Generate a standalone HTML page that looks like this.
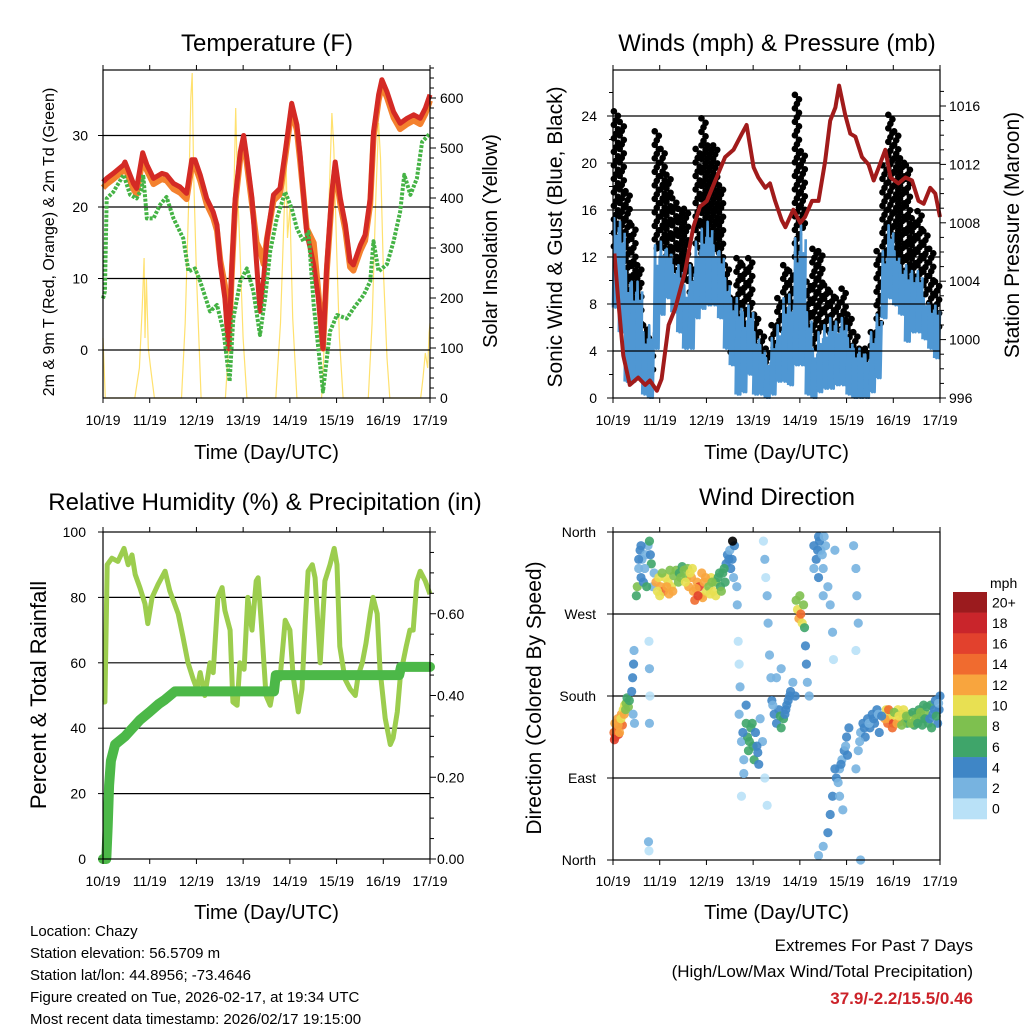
<!DOCTYPE html>
<html><head><meta charset="utf-8"><style>
body{margin:0;background:#fff;}
svg{display:block;font-family:"Liberation Sans",sans-serif;}
</style></head><body>
<svg id="s" width="1024" height="1024" viewBox="0 0 1024 1024" xmlns="http://www.w3.org/2000/svg"></svg>
<script>
// ---------- DATA ----------
const dayLabels=["10/19","11/19","12/19","13/19","14/19","15/19","16/19","17/19"];
// Temperature (F)
const tempT=[0,0.08,0.22,0.44,0.47,0.65,0.72,0.85,0.94,1.08,1.26,1.36,1.51,1.65,1.79,1.9,1.97,2.08,2.22,2.36,2.44,2.51,2.61,2.69,2.76,2.83,2.94,3.01,3.08,3.19,3.29,3.36,3.44,3.51,3.65,3.79,3.9,4.04,4.15,4.22,4.36,4.51,4.61,4.71,4.79,4.9,4.97,5.08,5.19,5.29,5.36,5.51,5.61,5.72,5.79,5.9,5.97,6.08,6.22,6.36,6.51,6.65,6.79,6.9,7.0];
const temp2m=[23.5,24,24.7,25.9,26.3,23.3,22.6,27.6,25.9,24,24.7,24.5,23.3,22.8,21.9,26.6,26.6,24.5,21.2,19.3,17.5,11.9,7.2,0.2,11.9,21.2,27.7,30,26.8,21.2,11.9,5.4,10,15.6,21.7,22.6,27.7,34.5,31.5,27.3,16.5,11.9,7.2,0.2,11.9,22.1,26.3,21.2,17.5,12.4,11.9,14.7,16.1,21.2,30.5,35.7,37.8,36.1,33.3,31.7,32.4,32.9,32.4,33.8,35.7];
const temp9m=[22.7,23.2,23.9,25.1,25.5,22.5,21.8,26.8,25.1,23.2,23.9,23.7,22.5,22,21.1,25.8,25.8,23.7,20.4,18.5,16.7,12.5,9,0.2,11.1,20.4,26.9,29.2,26,20.4,15,14,12,15.6,20.9,21.8,26.9,33.7,30.7,26.5,17,15,8,0.2,11.1,21.3,25.5,20.4,16.7,11.6,11.1,13.9,15.3,20.4,29.7,34.9,37,35.3,32.5,30.9,31.6,32.1,31.6,33,34.9];
const dewT=[0,0.04,0.08,0.22,0.44,0.58,0.72,0.83,0.86,0.94,1.08,1.22,1.36,1.51,1.72,1.83,1.97,2.08,2.29,2.44,2.58,2.71,2.79,2.94,3.08,3.22,3.36,3.47,3.58,3.72,3.9,4.04,4.15,4.29,4.4,4.51,4.71,4.86,5.01,5.22,5.36,5.58,5.72,5.79,5.9,6.08,6.22,6.36,6.45,6.58,6.72,6.83,7.0];
const dewV=[7.2,8.2,21.2,22.1,24.5,21.7,21.2,22.6,24.5,18.4,18.4,20.3,21.4,18.4,15.6,11,11.4,9.6,5.4,6.3,2.6,-4.4,4.4,9.6,11.4,8.2,2.1,7.2,13.8,18.4,22.1,19.8,17,15.2,16.5,6.3,-5.8,2.6,4.9,4.4,5.8,7.7,9.6,15.2,11,12,15.2,19.3,24.5,21.7,24,29.1,30.3];
const solarT=[0,0.05,0.68,0.78,0.84,0.88,0.9,0.93,0.97,1.02,1.1,1.68,1.76,1.83,1.88,1.91,1.94,2.0,2.1,2.62,2.72,2.8,2.84,2.88,2.93,3.0,3.08,3.7,3.8,3.87,3.92,3.95,4.0,4.06,4.15,4.68,4.76,4.84,4.9,4.94,5.0,5.06,5.14,5.68,5.76,5.84,5.9,5.94,6.0,6.08,6.14,6.8,6.85,6.9,6.95,6.98,7.0];
const solarW=[120,0,0,60,180,280,120,240,100,60,0,0,150,380,600,650,450,250,0,0,150,400,580,420,300,120,0,0,150,350,480,320,380,160,0,0,150,400,570,500,300,120,0,0,150,400,550,480,260,80,0,0,40,90,60,130,150];
// Winds (mph), bins of 1/8 day
const windTop=[15.3,15,10.8,9.9,9.9,5.6,6.2,13,13.3,12.7,11.3,11.3,9.6,11.3,13.3,14.4,15,13,12.5,10.2,8.5,8.5,7.3,7.9,5.6,4.5,3.4,5.1,6.2,8.5,8.8,13.6,14.7,7.3,4.2,5.6,6.2,6.8,6.5,6.8,5.1,4.2,4.2,3.7,5.6,7.1,12.5,14.7,12.5,11.3,11.3,10.8,10.8,8.5,7.9,7.9];
const windBot=[7.7,5.6,1.4,1.4,1.7,0.3,0,4.2,7.1,8.5,7.3,5.6,4.2,4.2,6.8,7.6,7.9,7.9,6.8,4.2,2.8,0.3,0.5,2,0.3,0.3,0,0.3,1.4,1.4,1.1,2.8,2.8,0.3,0,0.5,0.8,0.8,1.1,1.1,0.3,0,0,0,0.5,1.7,6.8,8.5,7.9,7.1,4.8,5.6,5.6,5,4.2,3.4];
const gustTop=[24.4,23.5,17.6,14.7,11.3,6.2,5.1,22.7,21.2,19,17,16.1,16.1,11.3,21.2,23.8,21.5,21.5,18.1,11.3,8.5,11.9,11.3,11.9,7.1,5.6,4.2,6.2,8.5,11.3,10.8,25.8,21,9.9,12.7,12.5,9.6,9,8.5,9.3,7.1,5.6,4.2,4.2,5.6,12.5,19.8,24.1,22.7,20.4,19.8,15.3,15.9,14.2,12.7,9.9];
const gustBot=[12.5,11.3,8.5,5.6,2.8,3.4,1.4,12.7,12.7,11.3,10.8,9,9.6,8.5,12.7,11.3,12.2,12.7,11.3,7.1,3.4,4,4.2,5.6,2.8,2.8,2.8,4,5.6,6.8,5.6,11.3,14.2,2.8,4.2,5.6,5.6,4,5.6,5.6,4.2,2.8,2.8,2.8,3.7,5.6,11.3,11.3,9.9,9.9,8.5,9.9,8.5,8.5,7.1,5.6];
const presT=[0.03,0.11,0.22,0.36,0.54,0.69,0.79,0.94,1.04,1.19,1.33,1.54,1.72,1.86,2.01,2.19,2.4,2.58,2.76,2.86,3.01,3.11,3.26,3.36,3.47,3.61,3.69,3.86,4.01,4.11,4.26,4.4,4.54,4.65,4.76,4.84,4.97,5.08,5.19,5.33,5.47,5.58,5.69,5.83,5.94,6.11,6.26,6.4,6.54,6.65,6.79,6.9,7.0];
const presV=[1005.9,1002.8,998.9,996.9,997.4,996.9,997.2,996.5,997.3,1001,1002.1,1004.6,1007.7,1009.1,1009.5,1010.9,1012.5,1013,1014.1,1014.7,1011.8,1011.1,1010.4,1010.7,1009.5,1008.2,1007.7,1008.9,1008,1008.4,1009.5,1009.5,1012.2,1015,1015.9,1017.4,1015.4,1014.1,1013.9,1012.5,1012,1010.9,1011.8,1013,1011.1,1010.7,1011.1,1010.9,1009.5,1009.3,1010.4,1010,1008.4];
// RH & precipitation
const rhT=[0,0.04,0.09,0.19,0.32,0.45,0.54,0.62,0.69,0.79,0.9,0.96,1.05,1.18,1.33,1.43,1.61,1.71,1.82,1.93,2.01,2.08,2.18,2.29,2.36,2.46,2.55,2.61,2.72,2.78,2.87,2.93,3.02,3.1,3.19,3.28,3.32,3.4,3.49,3.58,3.68,3.79,3.9,4.0,4.07,4.18,4.26,4.33,4.39,4.48,4.54,4.65,4.75,4.86,4.95,5.01,5.07,5.18,5.29,5.4,5.46,5.55,5.63,5.72,5.78,5.87,5.93,6.04,6.15,6.21,6.3,6.36,6.42,6.49,6.57,6.64,6.72,6.79,6.9,7.0];
const rhV=[48,48,90,92,91,95,90,93,87,83,78,72,80,84,88,82,75,68,60,55,52,57,50,60,57,80,83,76,70,48,47,60,58,80,70,85,86,70,50,47,55,55,73,70,56,45,52,73,88,90,86,60,85,90,95,90,65,55,52,50,56,60,66,75,80,75,58,43,35,37,45,55,60,65,70,70,85,88,85,81];
const rainT=[0,0.07,0.1,0.13,0.17,0.26,0.47,0.79,1.0,1.2,1.33,1.54,3.66,3.7,6.34,6.38,7.0];
const rainV=[0,0,0.08,0.18,0.24,0.28,0.3,0.34,0.36,0.38,0.39,0.41,0.41,0.45,0.45,0.47,0.47];
// Wind direction observations
const wdT=[0.02,0.04,0.05,0.08,0.1,0.12,0.15,0.18,0.2,0.22,0.25,0.28,0.3,0.33,0.35,
0.4,0.42,0.44,0.45,0.43,0.46,
0.5,0.52,0.55,0.58,0.6,0.62,0.65,0.7,0.75,0.78,0.82,0.85,0.88,
0.77,0.78,0.79,0.78,0.76,0.77,
0.92,0.98,1.02,1.08,1.12,1.18,1.25,1.3,1.35,1.42,1.48,1.52,1.58,1.62,1.68,1.72,1.75,1.8,1.85,1.88,1.92,1.95,2.0,2.05,2.1,2.15,2.2,2.25,2.3,2.35,1.0,1.2,1.4,1.6,1.7,1.9,2.2,2.4,
2.42,2.45,2.5,2.52,2.55,2.6,2.58,
2.65,2.66,2.68,2.7,2.72,
2.7,2.75,2.8,2.85,2.88,2.9,2.95,3.0,3.02,3.05,3.1,3.15,3.2,2.8,2.75,2.85,
3.22,3.25,3.27,3.3,3.32,3.35,3.38,3.3,3.25,
3.4,3.45,3.5,3.55,3.6,3.65,3.7,3.75,3.8,3.85,3.9,3.5,3.6,
3.92,3.95,3.98,4.0,4.02,4.05,4.08,4.1,4.12,4.14,4.16,4.2,
4.3,4.35,4.4,4.45,4.5,4.55,4.6,4.65,4.7,4.72,4.75,4.4,4.5,
4.4,4.5,4.6,4.65,4.7,4.78,4.85,4.9,4.95,5.0,5.05,4.85,4.92,4.75,
5.15,5.2,5.22,5.25,5.2,5.3,
5.2,5.25,5.3,5.35,5.4,5.45,5.5,5.55,5.6,5.65,5.7,
5.85,5.88,5.92,5.95,6.0,6.05,6.1,6.15,6.2,6.25,6.3,6.35,6.4,6.45,6.5,6.55,6.6,6.65,6.7,6.75,6.8,6.85,6.9,6.95,7.0,6.98,
0.95,1.05,1.15,1.22,1.28,1.45,1.55,1.65,1.78,1.82,1.98,2.08,2.12,2.28,2.32,2.38,
5.82,5.9,5.98,6.02,6.08,6.12,6.18,6.22,6.28,6.38,6.42,6.48,6.52,6.58,6.62,6.68,6.72,6.78,6.82,6.88,6.92,6.97,
0.03,0.07,0.11,0.14,0.17,0.24,0.27,
2.78,2.92,2.98,3.08,3.12,3.42,3.58,3.68,3.72,3.78,5.28,5.38,5.48,5.58,5.68,5.75,4.82,4.88,4.98,5.02,4.3,4.38,4.42,4.48,4.52,0.55,0.6,0.68,0.72,0.8,2.48,2.56];
const wdDeg=[140,150,135,145,155,138,150,160,148,165,170,172,178,168,175,
185,200,215,230,160,150,
290,300,320,340,310,330,305,335,345,350,325,300,315,
240,210,180,150,20,10,
305,310,300,295,310,305,300,312,318,315,322,318,310,300,310,295,285,305,300,290,288,305,295,300,310,295,305,310,300,315,290,292,305,320,320,315,290,305,
325,335,340,320,330,345,310,
300,280,240,215,190,
160,130,110,150,135,120,145,125,110,140,118,155,130,95,70,170,
350,330,310,290,260,225,200,60,90,
175,160,150,165,145,155,165,175,185,195,180,200,210,
285,275,265,290,270,260,280,255,235,215,195,180,
345,330,355,340,320,345,300,280,250,220,340,310,290,
5,15,30,50,70,90,100,110,120,135,145,70,55,100,
345,320,290,260,230,0,
100,120,140,150,135,155,145,160,150,165,140,
165,150,155,160,150,158,165,152,160,155,150,160,155,148,160,165,155,170,160,150,170,160,175,150,180,165,
295,315,300,318,295,310,305,315,298,290,310,292,305,315,295,320,
155,165,145,162,150,158,148,165,158,150,162,155,150,162,148,155,168,155,145,165,158,172,
132,142,148,140,155,160,165,
140,130,150,125,105,170,158,160,170,180,130,145,150,155,160,158,85,105,125,115,320,340,350,335,355,330,345,320,300,335,330,350];
const wdSpd=[14,12,16,15,12,16,13,12,14,11,10,8,7,9,6,
4,4,5,3,3,3,
7,9,3,4,5,3,4,2,2,7,6,2,3,
1,2,1,2,2,1,
12,10,12,14,10,11,10,9,8,7,6,8,9,12,13,12,14,12,17,11,13,12,11,9,10,11,8,7,6,6,11,12,9,8,10,12,10,6,
4,4,3,4,4,5,3,
2,2,1,1,2,
3,2,3,6,7,7,6,6,6,5,4,3,2,2,1,5,
1,2,1,2,2,3,2,1,1,
4,4,5,4,6,7,5,4,4,3,4,3,2,
8,10,12,9,14,11,8,6,4,4,3,2,
4,4,4,3,3,2,2,2,2,1,2,4,2,
3,3,4,4,4,4,3,3,4,4,4,2,2,4,
2,2,2,2,1,2,
2,3,3,4,4,4,4,4,5,4,4,
10,14,12,10,16,11,10,12,9,8,7,8,10,7,8,7,6,7,8,6,6,5,4,5,4,5,
11,9,13,8,12,9,10,11,12,16,12,10,9,7,8,6,
12,14,15,9,12,11,8,10,9,8,7,9,6,8,7,6,7,5,7,4,6,3,
16,14,13,12,11,12,9,
5,6,7,5,4,3,6,4,4,5,3,4,3,4,3,4,3,4,3,4,3,4,4,3,3,4,5,3,6,4,4];
const cbLabels=["20+","18","16","14","12","10","8","6","4","2","0"];
const cbColors=["#9b1b1e","#c9252b","#e2412d","#f06b2f","#f8a53e","#e8e052","#7ec04f","#3fa56a","#3f86c6","#77b3e0","#b9e1f7"];

// ---------- helpers ----------
const NS="http://www.w3.org/2000/svg";
const S=document.getElementById("s");
function el(tag,attrs,parent){const e=document.createElementNS(NS,tag);for(const k in attrs)e.setAttribute(k,attrs[k]);(parent||S).appendChild(e);return e;}
function txt(str,x,y,size,anchor,parent,extra){const e=el("text",Object.assign({x:x,y:y,"font-size":size,"text-anchor":anchor||"middle",fill:"#000"},extra||{}),parent);e.textContent=str;return e;}
function pathOf(ts,vs,fx,fy){let d="";for(let i=0;i<ts.length;i++)d+=(i?"L":"M")+fx(ts[i]).toFixed(1)+","+fy(vs[i]).toFixed(1);return d;}
function group(name){const g=el("g",{});return g;}

const L0=103,L1=430,R0=613,R1=940;
const xL=d=>L0+d*(L1-L0)/7, xR=d=>R0+d*(R1-R0)/7;

function frame(g,x0,x1,y0,y1,fx,xlabY,titleY){
  for(let i=0;i<dayLabels.length;i++){
    const x=fx(i);
    el("line",{x1:x,y1:y1,x2:x,y2:y1+5,stroke:"#000","stroke-width":1},g);
    el("line",{x1:x,y1:y0,x2:x,y2:y0-5,stroke:"#000","stroke-width":1},g);
    const t=txt(dayLabels[i],x,xlabY,14,"middle",g);
    
    
  }
  const tt=txt("Time (Day/UTC)",(x0+x1)/2,titleY,20,"middle",g);
  
  
}
function border(g,x0,x1,y0,y1){el("rect",{x:x0,y:y0,width:x1-x0,height:y1-y0,fill:"none",stroke:"#000","stroke-width":1.2},g);}
function hgrid(g,x0,x1,ys){ys.forEach(y=>el("line",{x1:x0,y1:y,x2:x1,y2:y,stroke:"#000","stroke-width":1.2},g));}

// ================= PANEL 1: Temperature =================
{
const g=group("temperature-panel");
const y0=70,y1=398;
const yT=v=>350-v*7.15, yS=w=>398-w*0.5;
const t=txt("Temperature (F)",267,51,24,"middle",g);
const sp=el("path",{d:pathOf(solarT,solarW,xL,yS),fill:"none",stroke:"#ffd94a","stroke-width":1.2,"stroke-opacity":0.8},g);

hgrid(g,L0,L1,[0,10,20,30].map(yT));
const op=el("path",{d:pathOf(tempT,temp9m,xL,yT),fill:"none",stroke:"#f4812e","stroke-width":6,"stroke-linejoin":"round"},g);

const rp=el("path",{d:pathOf(tempT,temp2m,xL,yT),fill:"none",stroke:"#d42a25","stroke-width":5,"stroke-linejoin":"round"},g);

const gp=el("path",{d:pathOf(dewT,dewV,xL,yT),fill:"none",stroke:"#45b345","stroke-width":4,"stroke-dasharray":"3 1.5","stroke-linejoin":"round"},g);

border(g,L0,L1,y0,y1);
[0,10,20,30].forEach(v=>{el("line",{x1:L0-5,y1:yT(v),x2:L0,y2:yT(v),stroke:"#000"},g);const l=txt(String(v),88,yT(v)+5,14,"end",g);});
for(let w=0;w<=660;w+=20){el("line",{x1:L1,y1:yS(w),x2:L1+(w%100==0?6:4),y2:yS(w),stroke:"#000"},g);}
[0,100,200,300,400,500,600].forEach(w=>{const l=txt(String(w),440,yS(w)+5,14,"start",g);});
const la=txt("2m & 9m T (Red, Orange) & 2m Td (Green)",0,0,16,"middle",g,{transform:"translate(54,242) rotate(-90)"});
const ra=txt("Solar Insolation (Yellow)",0,0,20,"middle",g,{transform:"translate(497,241) rotate(-90)"});
frame(g,L0,L1,y0,y1,xL,425,459);
}
// ================= PANEL 2: Winds =================
{
const g=group("winds-panel");
const y0=70,y1=398;
const yW=m=>398-m*11.75, yP=p=>398-(p-996)*14.6;
const t=txt("Winds (mph) & Pressure (mb)",777,51,24,"middle",g);
const bw=(R1-R0)/56;
for(let i=0;i<gustTop.length;i++){
  const gt=yW(gustTop[i]), gb=yW(gustBot[i]);
  const dots=el("g",{},g);
  
  
  let k=0;
  for(let y=gt;y<=gb+0.1;y+=4.5){
    el("circle",{cx:xR(i/8)+(k%3==0?bw*0.15:(k%3==1?bw*0.85:bw*0.5)),cy:y,r:3.3,fill:"#000"},dots);
    k++;
  }
}
for(let i=0;i<windTop.length;i++){
  const x=xR(i/8), t2=yW(windTop[i]), b=yW(windBot[i]);
  const d="M"+x+","+b+"L"+(x+bw*0.2)+","+t2+"L"+(x+bw*0.4)+","+b+"L"+(x+bw*0.6)+","+(t2+(b-t2)*0.2)+"L"+(x+bw*0.8)+","+b+"L"+(x+bw)+","+(t2+(b-t2)*0.1);
  const r=el("path",{d:d,fill:"none",stroke:"#4f97d3","stroke-width":2.6,"stroke-linejoin":"round"},g);
  
  
}
hgrid(g,R0,R1,[4,8,12,16,20,24].map(yW));
const pp=el("path",{d:pathOf(presT,presV,xR,yP),fill:"none",stroke:"#a11b1b","stroke-width":4,"stroke-linejoin":"round"},g);

el("rect",{x:R0-20,y:y1+1,width:R1-R0+40,height:8,fill:"#fff"},g);
border(g,R0,R1,y0,y1);
for(let m=0;m<=26;m+=2)el("line",{x1:R0-(m%4==0?6:4),y1:yW(m),x2:R0,y2:yW(m),stroke:"#000"},g);
[0,4,8,12,16,20,24].forEach(v=>{const l=txt(String(v),597,yW(v)+5,14,"end",g);});
for(let p=996;p<=1017;p+=1)el("line",{x1:R1,y1:yP(p),x2:R1+(p%4==0?6:4),y2:yP(p),stroke:"#000"},g);
[996,1000,1004,1008,1012,1016].forEach(v=>{const l=txt(String(v),949,yP(v)+5,14,"start",g);});
const la=txt("Sonic Wind & Gust (Blue, Black)",0,0,21,"middle",g,{transform:"translate(562,237) rotate(-90)"});
const ra=txt("Station Pressure (Maroon)",0,0,21,"middle",g,{transform:"translate(1019,235) rotate(-90)"});
frame(g,R0,R1,y0,y1,xR,425,459);
}
// ================= PANEL 3: RH & Precip =================
{
const g=group("humidity-panel");
const y0=532,y1=859;
const yH=v=>859-v*3.27, yR=i=>859-i*408.75;
const t=txt("Relative Humidity (%) & Precipitation (in)",265,510,24,"middle",g);
hgrid(g,L0,L1,[20,40,60,80].map(yH));
const hp=el("path",{d:pathOf(rhT,rhV,xL,yH),fill:"none",stroke:"#9ccd4e","stroke-width":5,"stroke-linejoin":"round"},g);

const rp=el("path",{d:pathOf(rainT,rainV,xL,yR),fill:"none",stroke:"#4cb848","stroke-width":10,"stroke-linejoin":"round","stroke-linecap":"round"},g);

border(g,L0,L1,y0,y1);
[0,20,40,60,80,100].forEach(v=>{el("line",{x1:L0-5,y1:yH(v),x2:L0,y2:yH(v),stroke:"#000"},g);const l=txt(String(v),86,yH(v)+5,14,"end",g);});
for(let i=0;i<=0.8001;i+=0.05)el("line",{x1:L1,y1:yR(i),x2:L1+(Math.abs(i*10-Math.round(i*10))<0.01&&Math.round(i*10)%2==0?6:4),y2:yR(i),stroke:"#000"},g);
[0,0.2,0.4,0.6].forEach(v=>{const l=txt(v.toFixed(2),437,yR(v)+5,14,"start",g);});
const la=txt("Percent & Total Rainfall",0,0,22,"middle",g,{transform:"translate(46,695) rotate(-90)"});
frame(g,L0,L1,y0,y1,xL,886,919);
}
// ================= PANEL 4: Wind direction =================
{
const g=group("wind-direction-panel");
const y0=532,y1=860;
const yD=d=>860-d*(328/360);
const t=txt("Wind Direction",777,505,24,"middle",g);
hgrid(g,R0,R1,[90,180,270].map(yD));
for(let i=0;i<wdT.length;i++){
  const ci=10-Math.min(10,Math.floor(wdSpd[i]/2));
  const c=el("circle",{cx:xR(wdT[i]),cy:yD(wdDeg[i]),r:4.6,fill:cbColors[ci],"fill-opacity":0.9},g);
  
  
}
border(g,R0,R1,y0,y1);
const dn=["North","East","South","West","North"];
[0,90,180,270,360].forEach((d,i)=>{el("line",{x1:R0-6,y1:yD(d),x2:R0,y2:yD(d),stroke:"#000"},g);const l=txt(dn[i],596,yD(d)+5,14,"end",g);});
const la=txt("Direction (Colored By Speed)",0,0,21,"middle",g,{transform:"translate(541,698) rotate(-90)"});
frame(g,R0,R1,y0,y1,xR,886,919);
const cb=group("speed-colorbar");
const m=txt("mph",990,588,14,"start",cb);
const bh=227/11;
for(let i=0;i<cbColors.length;i++){
  const r=el("rect",{x:953,y:592+i*bh,width:34,height:bh+0.3,fill:cbColors[i]},cb);
  
  
  const l=txt(cbLabels[i],992,592+i*bh+bh/2+5,14,"start",cb);
  
  
}
}
// ================= Footer text =================
{
const g=group("station-info");
const lines=["Location: Chazy","Station elevation: 56.5709 m","Station lat/lon: 44.8956; -73.4646","Figure created on Tue, 2026-02-17, at 19:34 UTC","Most recent data timestamp: 2026/02/17 19:15:00"];
lines.forEach((s,i)=>{const l=txt(s,30,936+i*22,15,"start",g);});
const e=group("extremes-summary");
const a=txt("Extremes For Past 7 Days",973,951,17,"end",e);
const b=txt("(High/Low/Max Wind/Total Precipitation)",973,977,17,"end",e);
const c=txt("37.9/-2.2/15.5/0.46",973,1004,17,"end",e,{fill:"#cc2229","font-weight":"bold"});
}
</script>
</body></html>
